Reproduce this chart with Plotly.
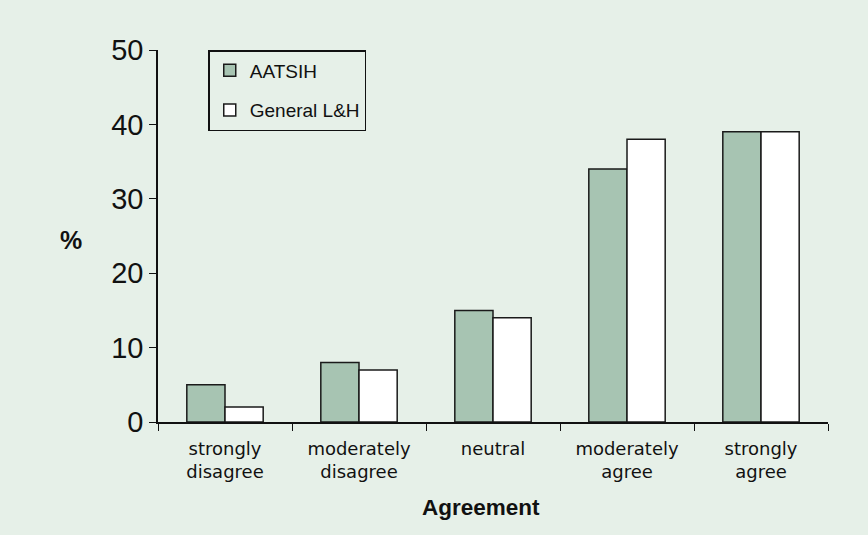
import plotly.graph_objects as go

categories = ["strongly<br>disagree", "moderately<br>disagree", "neutral",
              "moderately<br>agree", "strongly<br>agree"]
aatsih = [5, 8, 15, 34, 39]
general = [2, 7, 14, 38, 39]

bg = "#E6F0E8"

fig = go.Figure()
fig.add_trace(go.Bar(x=categories, y=aatsih, name="AATSIH", legendgroup="a",
                     marker=dict(color="#A7C4B2", line=dict(color="#1a1a1a", width=1.5))))
fig.add_trace(go.Bar(x=categories, y=general, name="General L&H", legendgroup="b",
                     marker=dict(color="white", line=dict(color="#1a1a1a", width=1.5))))

fig.update_layout(
    width=868, height=535,
    paper_bgcolor=bg, plot_bgcolor=bg,
    margin=dict(l=158, r=40, t=50, b=113),
    barmode="group", bargap=0.43, bargroupgap=0,
    font=dict(family="Liberation Sans, Arial", color="#111111"),
    legend=dict(x=0.075, y=1.0, xanchor="left", yanchor="top",
                bgcolor=bg, bordercolor="#111111", borderwidth=1.5,
                font=dict(size=19), tracegroupgap=12, itemwidth=30),
)
fig.update_xaxes(
    showline=True, linecolor="#111111", linewidth=2,
    ticks="outside", tickson="boundaries", ticklen=7, tickcolor="#111111",
    tickfont=dict(size=18, family="DejaVu Sans"), ticklabelstandoff=9,
)
fig.update_yaxes(
    range=[0, 50], dtick=10, showgrid=False, zeroline=False,
    showline=True, linecolor="#111111", linewidth=1.5,
    ticks="outside", ticklen=7, tickcolor="#111111",
    tickfont=dict(size=29),
)
# axis titles placed as annotations to match the original positions
fig.add_annotation(text="<b>%</b>", xref="paper", yref="paper", x=-0.13, y=0.49,
                   xanchor="center", yanchor="middle",
                   showarrow=False, font=dict(size=25))
fig.add_annotation(text="<b>Agreement</b>", xref="paper", yref="paper", x=0.482, y=-0.231,
                   xanchor="center", yanchor="middle",
                   showarrow=False, font=dict(size=22.5))

fig.write_html("out.html", config={"displayModeBar": False},
               post_script="document.body.style.margin='0';document.body.style.overflow='hidden';")
